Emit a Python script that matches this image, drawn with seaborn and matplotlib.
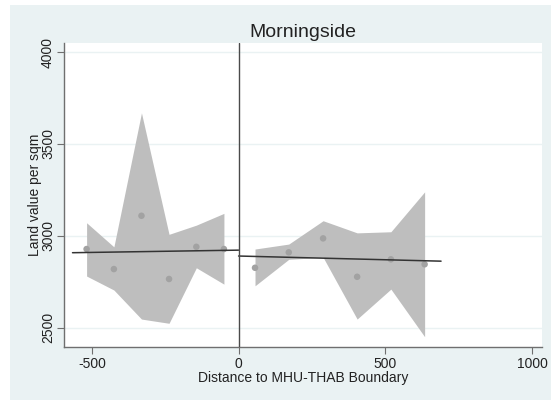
import matplotlib
matplotlib.use("Agg")
import matplotlib.pyplot as plt
import seaborn as sns
import pandas as pd
from matplotlib.patches import Rectangle

# ---- data ----
left_x = [-518, -425, -331, -237, -144, -50]
left_y = [2928, 2819, 3109, 2765, 2940, 2928]
left_hi = [3071, 2940, 3669, 3008, 3058, 3122]
left_lo = [2781, 2705, 2547, 2524, 2826, 2737]

right_x = [56, 171, 288, 404, 519, 634]
right_y = [2826, 2910, 2986, 2777, 2872, 2845]
right_hi = [2928, 2955, 3082, 3016, 3022, 3239]
right_lo = [2728, 2872, 2883, 2547, 2710, 2451]

fit_left_x = [-566, 0]
fit_left_y = [2908, 2922]
fit_right_x = [0, 690]
fit_right_y = [2890, 2862]

x_ticks = [-500, 0, 500, 1000]
y_ticks = [2500, 3000, 3500, 4000]

title = "Morningside"
xlabel = "Distance to MHU-THAB Boundary"
ylabel = "Land value per sqm"

# ---- style ----
sns.set_theme(style="white")
plt.rcParams['font.family'] = ['Liberation Sans', 'DejaVu Sans']

W, H = 551, 400
fig = plt.figure(figsize=(W / 100, H / 100), dpi=100, facecolor="white")
bg = "#EAF2F3"
fig.add_artist(Rectangle((10 / W, 0), 1 - 10 / W, 1 - 5 / H,
                         transform=fig.transFigure, facecolor=bg,
                         edgecolor="none", zorder=-10))

ax = fig.add_axes([64 / W, 1 - 347 / H, (542 - 64) / W, (347 - 43) / H])
ax.set_zorder(5)
ax.set_facecolor("white")

band_col = "#BEBEBE"
pt_col = "#A2A2A2"
line_col = "#333333"

# gridlines
for yt in y_ticks:
    ax.axhline(yt, color=bg, lw=1.0, zorder=0.5)

ax.fill_between(left_x, left_lo, left_hi, color=band_col, lw=0, zorder=1)
ax.fill_between(right_x, right_lo, right_hi, color=band_col, lw=0, zorder=1)

pts = pd.DataFrame({"x": left_x + right_x, "y": left_y + right_y})
sns.scatterplot(data=pts, x="x", y="y", ax=ax, color=pt_col, s=22,
                edgecolor="none", zorder=3)

fits = pd.DataFrame({
    "x": fit_left_x + fit_right_x,
    "y": fit_left_y + fit_right_y,
    "side": ["L", "L", "R", "R"],
})
sns.lineplot(data=fits, x="x", y="y", units="side", estimator=None,
             ax=ax, color=line_col, lw=1.1, zorder=4, legend=False)

ax.axvline(0, color="#4a4a4a", lw=1.0, zorder=5)

ax.set_xlim(-595, 1034)
ax.set_ylim(2395, 4049)
ax.set_xticks(x_ticks)
ax.set_yticks(y_ticks)
ax.set_xticklabels([str(v) for v in x_ticks], fontsize=10, color="#222222")
ax.set_yticklabels([str(v) for v in y_ticks], fontsize=10, color="#222222",
                   rotation=90, va="center")

for s in ["top", "right"]:
    ax.spines[s].set_visible(False)
for s in ["left", "bottom"]:
    ax.spines[s].set_color("#6f6f6f")
    ax.spines[s].set_linewidth(1.0)

ax.tick_params(axis="both", which="major", direction="out", length=5,
               width=0.8, color="#6f6f6f", bottom=True, left=True)
ax.tick_params(axis="x", pad=2)
ax.tick_params(axis="y", pad=1.5)

ax.set_xlabel(xlabel, fontsize=10, color="#222222", labelpad=0)
ax.set_ylabel(ylabel, fontsize=10, color="#222222", labelpad=-1)
ax.set_title(title, fontsize=14, color="#222222", pad=4)

fig.savefig("out.png", dpi=100, facecolor="white")
